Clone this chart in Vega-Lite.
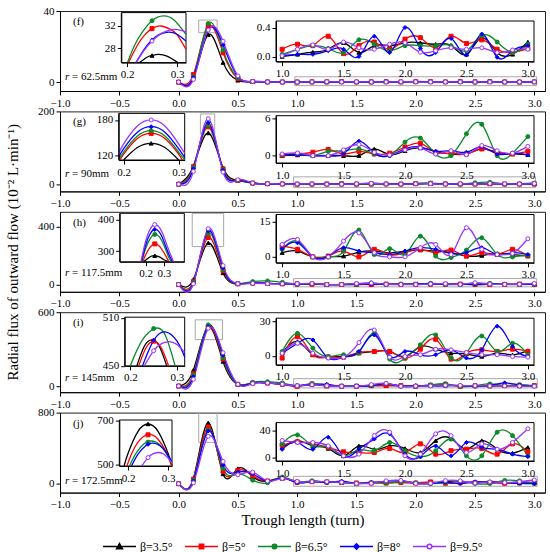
{
  "$schema": "https://vega.github.io/schema/vega-lite/v6.json",
  "padding": {"left": 4, "top": 4, "right": 7, "bottom": 0},
  "bounds": "flush",
  "data": {"values": [{}]},
  "datasets": {
    "m": [
      {"p":"f","x":0,"a":0,"b":0,"c":0,"d":0,"e":0},
      {"p":"f","x":0.125,"a":2.5,"b":4.3,"c":3,"d":2.5,"e":1.5},
      {"p":"f","x":0.25,"a":26.7,"b":31.53,"c":32.94,"d":29.48,"e":29.3},
      {"p":"f","x":0.375,"a":11,"b":16.5,"c":18,"d":21,"e":23},
      {"p":"f","x":0.5,"a":1,"b":2,"c":2.5,"d":3,"e":3.5},
      {"p":"f","x":0.625,"a":0.2,"b":0.3,"c":0.3,"d":0.3,"e":0.4},
      {"p":"f","x":0.75,"a":0.1,"b":0.1,"c":0.1,"d":0.1,"e":0.1},
      {"p":"f","x":0.875,"a":0.05,"b":0.1,"c":0.05,"d":0.05,"e":0.05},
      {"p":"f","x":1,"a":0,"b":0.1,"c":0.03,"d":0.01,"e":0.01},
      {"p":"f","x":1.125,"a":0.03,"b":0.17,"c":0.1,"d":0.03,"e":0.1},
      {"p":"f","x":1.25,"a":0.06,"b":0.15,"c":0.15,"d":0.03,"e":0.16},
      {"p":"f","x":1.375,"a":0.1,"b":0.28,"c":0.11,"d":0.08,"e":0.1},
      {"p":"f","x":1.5,"a":0.19,"b":0.04,"c":0.055,"d":0.1,"e":0.2},
      {"p":"f","x":1.625,"a":0.055,"b":0.15,"c":0.23,"d":0,"e":0.12},
      {"p":"f","x":1.75,"a":0.15,"b":0.2,"c":0.17,"d":0.28,"e":0.1},
      {"p":"f","x":1.875,"a":0.15,"b":0.1,"c":0.08,"d":0.055,"e":0.17},
      {"p":"f","x":2,"a":0.19,"b":0.24,"c":0.15,"d":0.4,"e":0.19},
      {"p":"f","x":2.125,"a":0.19,"b":0.26,"c":0.15,"d":0.11,"e":0.06},
      {"p":"f","x":2.25,"a":0.17,"b":0.12,"c":0.15,"d":0.055,"e":0.08},
      {"p":"f","x":2.375,"a":0.15,"b":0.28,"c":0.15,"d":0.25,"e":0.12},
      {"p":"f","x":2.5,"a":0.03,"b":0.18,"c":0.08,"d":0.02,"e":0.1},
      {"p":"f","x":2.625,"a":0.26,"b":0.23,"c":0.29,"d":0.31,"e":0.12},
      {"p":"f","x":2.75,"a":0.055,"b":0.1,"c":0.2,"d":-0.01,"e":0.055},
      {"p":"f","x":2.875,"a":0.03,"b":0.06,"c":0.055,"d":0.08,"e":0.09},
      {"p":"f","x":3,"a":0.2,"b":0.11,"c":0.17,"d":0.15,"e":0.1},

      {"p":"g","x":0,"a":0,"b":0,"c":0,"d":0,"e":0},
      {"p":"g","x":0.125,"a":50,"b":48,"c":46,"d":42,"e":35},
      {"p":"g","x":0.25,"a":140.7,"b":157.5,"c":162,"d":168.7,"e":180},
      {"p":"g","x":0.375,"a":45,"b":42,"c":40,"d":38,"e":33},
      {"p":"g","x":0.5,"a":10,"b":10,"c":10,"d":11,"e":12},
      {"p":"g","x":0.625,"a":3,"b":3,"c":3,"d":3,"e":3},
      {"p":"g","x":0.75,"a":1,"b":1,"c":1,"d":1,"e":1},
      {"p":"g","x":0.875,"a":0.5,"b":0.5,"c":0.5,"d":0.5,"e":0.5},
      {"p":"g","x":1,"a":0,"b":0,"c":0.15,"d":0.15,"e":0.27},
      {"p":"g","x":1.125,"a":0.1,"b":0.27,"c":0.27,"d":0.15,"e":0.44},
      {"p":"g","x":1.25,"a":0,"b":0.55,"c":0,"d":0,"e":0},
      {"p":"g","x":1.375,"a":0,"b":1,"c":0.7,"d":0,"e":0},
      {"p":"g","x":1.5,"a":0,"b":0.27,"c":0.8,"d":0.27,"e":0.93},
      {"p":"g","x":1.625,"a":0,"b":0.7,"c":1.1,"d":2.35,"e":1.8},
      {"p":"g","x":1.75,"a":1.1,"b":0.27,"c":0.27,"d":0.4,"e":0.55},
      {"p":"g","x":1.875,"a":0.15,"b":0.4,"c":0,"d":0,"e":0.1},
      {"p":"g","x":2,"a":0.8,"b":1.4,"c":2.2,"d":1.1,"e":0.93},
      {"p":"g","x":2.125,"a":1.25,"b":2,"c":2.85,"d":1.4,"e":1.25},
      {"p":"g","x":2.25,"a":0.7,"b":0.55,"c":0.27,"d":0.7,"e":0.27},
      {"p":"g","x":2.375,"a":0.27,"b":0.4,"c":0,"d":0.8,"e":0.8},
      {"p":"g","x":2.5,"a":0.27,"b":0.27,"c":3.55,"d":0.55,"e":0.15},
      {"p":"g","x":2.625,"a":1.1,"b":1.1,"c":5.1,"d":1.4,"e":1.65},
      {"p":"g","x":2.75,"a":0.55,"b":0.4,"c":0,"d":0.27,"e":0.8},
      {"p":"g","x":2.875,"a":0.27,"b":0.27,"c":0.4,"d":0.4,"e":0.4},
      {"p":"g","x":3,"a":0.15,"b":0.7,"c":3.1,"d":0.1,"e":1.5},

      {"p":"h","x":0,"a":0,"b":0,"c":0,"d":0,"e":0},
      {"p":"h","x":0.125,"a":35,"b":20,"c":15,"d":10,"e":5},
      {"p":"h","x":0.25,"a":286,"b":323,"c":353,"d":368.6,"e":384},
      {"p":"h","x":0.375,"a":80,"b":95,"c":105,"d":115,"e":130},
      {"p":"h","x":0.5,"a":5,"b":5,"c":5,"d":5,"e":5},
      {"p":"h","x":0.625,"a":10,"b":10,"c":20,"d":10,"e":8},
      {"p":"h","x":0.75,"a":8,"b":8,"c":25,"d":8,"e":6},
      {"p":"h","x":0.875,"a":5,"b":5,"c":15,"d":5,"e":5},
      {"p":"h","x":1,"a":1.8,"b":4.6,"c":3.2,"d":3.5,"e":5.3},
      {"p":"h","x":1.125,"a":2.5,"b":3.2,"c":6.7,"d":6,"e":7.4},
      {"p":"h","x":1.25,"a":0,"b":0,"c":0,"d":0,"e":0},
      {"p":"h","x":1.375,"a":0,"b":0.35,"c":0,"d":0.35,"e":0},
      {"p":"h","x":1.5,"a":0.35,"b":2.5,"c":2.5,"d":3.9,"e":6.7},
      {"p":"h","x":1.625,"a":2,"b":0,"c":11.4,"d":2.5,"e":10.2},
      {"p":"h","x":1.75,"a":2.5,"b":3.2,"c":1,"d":1.8,"e":1.8},
      {"p":"h","x":1.875,"a":1.8,"b":1,"c":3.5,"d":1,"e":0},
      {"p":"h","x":2,"a":2.5,"b":1.8,"c":1,"d":2.5,"e":0},
      {"p":"h","x":2.125,"a":2.9,"b":3.2,"c":8.8,"d":3.9,"e":3.9},
      {"p":"h","x":2.25,"a":2.5,"b":1.8,"c":0.35,"d":3.2,"e":5.3},
      {"p":"h","x":2.375,"a":1.8,"b":2.9,"c":-0.3,"d":1.5,"e":1},
      {"p":"h","x":2.5,"a":0.35,"b":0.35,"c":2.9,"d":1.8,"e":12.4},
      {"p":"h","x":2.625,"a":0.6,"b":1.8,"c":8.1,"d":3.9,"e":3.2},
      {"p":"h","x":2.75,"a":1.5,"b":1,"c":1,"d":1,"e":1},
      {"p":"h","x":2.875,"a":1,"b":3.2,"c":0,"d":1.8,"e":1.5},
      {"p":"h","x":3,"a":0.6,"b":0.35,"c":0.6,"d":1,"e":7.7},

      {"p":"i","x":0,"a":0,"b":0,"c":0,"d":0,"e":0},
      {"p":"i","x":0.125,"a":130,"b":100,"c":90,"d":75,"e":55},
      {"p":"i","x":0.25,"a":482,"b":481,"c":496.8,"d":482,"e":469},
      {"p":"i","x":0.375,"a":200,"b":220,"c":230,"d":250,"e":270},
      {"p":"i","x":0.5,"a":14,"b":14,"c":14,"d":14,"e":14},
      {"p":"i","x":0.625,"a":25,"b":25,"c":30,"d":25,"e":20},
      {"p":"i","x":0.75,"a":25,"b":25,"c":35,"d":25,"e":25},
      {"p":"i","x":0.875,"a":15,"b":15,"c":25,"d":15,"e":15},
      {"p":"i","x":1,"a":2.3,"b":-2,"c":3.8,"d":2.3,"e":2.3},
      {"p":"i","x":1.125,"a":12.5,"b":16.8,"c":19.7,"d":11,"e":11},
      {"p":"i","x":1.25,"a":0.9,"b":0.9,"c":6.7,"d":13.9,"e":2.3},
      {"p":"i","x":1.375,"a":-1,"b":-1,"c":-0.6,"d":-2,"e":-2},
      {"p":"i","x":1.5,"a":-0.5,"b":-1.2,"c":0.9,"d":-1.2,"e":-1.2},
      {"p":"i","x":1.625,"a":2.3,"b":2.9,"c":2.9,"d":3.8,"e":11.6},
      {"p":"i","x":1.75,"a":3.8,"b":3.8,"c":19.7,"d":18.3,"e":22.6},
      {"p":"i","x":1.875,"a":3.8,"b":3.8,"c":-2.9,"d":-0.6,"e":-1.2},
      {"p":"i","x":2,"a":-0.6,"b":-2,"c":-2,"d":3.8,"e":-0.6},
      {"p":"i","x":2.125,"a":8.1,"b":5.8,"c":9.6,"d":0.9,"e":0.9},
      {"p":"i","x":2.25,"a":5.8,"b":14.5,"c":18.3,"d":0.9,"e":5.8},
      {"p":"i","x":2.375,"a":2.3,"b":-2.9,"c":-2,"d":5.2,"e":5.2},
      {"p":"i","x":2.5,"a":1.7,"b":2.3,"c":2.3,"d":-2,"e":2.9},
      {"p":"i","x":2.625,"a":-0.6,"b":5.2,"c":17.4,"d":5.2,"e":0.9},
      {"p":"i","x":2.75,"a":2.3,"b":3.8,"c":3.8,"d":26,"e":0.9},
      {"p":"i","x":2.875,"a":0.9,"b":5.8,"c":11,"d":8.1,"e":-0.6},
      {"p":"i","x":3,"a":4.6,"b":3.8,"c":0.9,"d":-0.6,"e":-1.2},

      {"p":"j","x":0,"a":0,"b":0,"c":0,"d":0,"e":0},
      {"p":"j","x":0.125,"a":60,"b":50,"c":40,"d":30,"e":10},
      {"p":"j","x":0.25,"a":685,"b":636,"c":603,"d":593,"e":533},
      {"p":"j","x":0.375,"a":110,"b":140,"c":170,"d":210,"e":250},
      {"p":"j","x":0.5,"a":170,"b":150,"c":110,"d":130,"e":100},
      {"p":"j","x":0.625,"a":80,"b":90,"c":40,"d":110,"e":130},
      {"p":"j","x":0.75,"a":30,"b":30,"c":10,"d":30,"e":30},
      {"p":"j","x":0.875,"a":65,"b":60,"c":75,"d":65,"e":60},
      {"p":"j","x":1,"a":15,"b":18,"c":20,"d":12,"e":25},
      {"p":"j","x":1.125,"a":24.7,"b":23,"c":33,"d":22,"e":22},
      {"p":"j","x":1.25,"a":17,"b":20,"c":17,"d":12,"e":22},
      {"p":"j","x":1.375,"a":13.3,"b":14.8,"c":15.8,"d":29.6,"e":17},
      {"p":"j","x":1.5,"a":2.5,"b":8.4,"c":2.5,"d":2.5,"e":2.5},
      {"p":"j","x":1.625,"a":17,"b":7.4,"c":11.4,"d":12.3,"e":5},
      {"p":"j","x":1.75,"a":12,"b":7.4,"c":10,"d":27,"e":32},
      {"p":"j","x":1.875,"a":17,"b":13.3,"c":22,"d":34.6,"e":37},
      {"p":"j","x":2,"a":13.3,"b":7.4,"c":10,"d":5,"e":2.5},
      {"p":"j","x":2.125,"a":7.4,"b":20,"c":1.5,"d":1.5,"e":5},
      {"p":"j","x":2.25,"a":24.7,"b":5,"c":10,"d":17,"e":34.6},
      {"p":"j","x":2.375,"a":28,"b":10,"c":27,"d":2.5,"e":32},
      {"p":"j","x":2.5,"a":12.3,"b":12.3,"c":2.5,"d":22,"e":7.4},
      {"p":"j","x":2.625,"a":24.7,"b":13.3,"c":2.5,"d":14.8,"e":20},
      {"p":"j","x":2.75,"a":12.3,"b":5,"c":37,"d":12.3,"e":12.3},
      {"p":"j","x":2.875,"a":6.4,"b":20,"c":32,"d":5,"e":22},
      {"p":"j","x":3,"a":14.8,"b":8.4,"c":2.5,"d":1.5,"e":42}
    ],
    "k": [
      {"p":"f","s":"a","x":0.225,"y":25.43},{"p":"f","s":"a","x":0.24,"y":26.4},{"p":"f","s":"a","x":0.25,"y":26.7},{"p":"f","s":"a","x":0.262,"y":26.9},{"p":"f","s":"a","x":0.28,"y":26.6},{"p":"f","s":"a","x":0.302,"y":25.43},
      {"p":"f","s":"b","x":0.203,"y":25.43},{"p":"f","s":"b","x":0.22,"y":28.4},{"p":"f","s":"b","x":0.235,"y":30.35},{"p":"f","s":"b","x":0.25,"y":31.53},{"p":"f","s":"b","x":0.267,"y":32},{"p":"f","s":"b","x":0.285,"y":31.48},{"p":"f","s":"b","x":0.3,"y":30.45},{"p":"f","s":"b","x":0.318,"y":27.8},
      {"p":"f","s":"c","x":0.201,"y":25.43},{"p":"f","s":"c","x":0.215,"y":28.5},{"p":"f","s":"c","x":0.23,"y":30.8},{"p":"f","s":"c","x":0.25,"y":32.94},{"p":"f","s":"c","x":0.273,"y":33.8},{"p":"f","s":"c","x":0.295,"y":33},{"p":"f","s":"c","x":0.318,"y":30.5},
      {"p":"f","s":"d","x":0.218,"y":25.43},{"p":"f","s":"d","x":0.235,"y":27.9},{"p":"f","s":"d","x":0.25,"y":29.48},{"p":"f","s":"d","x":0.265,"y":30.48},{"p":"f","s":"d","x":0.283,"y":30.9},{"p":"f","s":"d","x":0.3,"y":30.52},{"p":"f","s":"d","x":0.318,"y":29.3},
      {"p":"f","s":"e","x":0.218,"y":25.43},{"p":"f","s":"e","x":0.235,"y":27.7},{"p":"f","s":"e","x":0.25,"y":29.3},{"p":"f","s":"e","x":0.27,"y":30.73},{"p":"f","s":"e","x":0.296,"y":31.4},{"p":"f","s":"e","x":0.318,"y":30.92},

      {"p":"g","s":"a","x":0.2,"y":112.8},{"p":"g","s":"a","x":0.225,"y":133.7},{"p":"g","s":"a","x":0.25,"y":140.7},{"p":"g","s":"a","x":0.275,"y":133.7},{"p":"g","s":"a","x":0.3,"y":112.8},
      {"p":"g","s":"b","x":0.1935,"y":112.8},{"p":"g","s":"b","x":0.2,"y":122.5},{"p":"g","s":"b","x":0.225,"y":148.8},{"p":"g","s":"b","x":0.25,"y":157.5},{"p":"g","s":"b","x":0.275,"y":148.8},{"p":"g","s":"b","x":0.3,"y":122.5},{"p":"g","s":"b","x":0.3065,"y":112.8},
      {"p":"g","s":"c","x":0.191,"y":113},{"p":"g","s":"c","x":0.2,"y":126},{"p":"g","s":"c","x":0.225,"y":153},{"p":"g","s":"c","x":0.25,"y":162},{"p":"g","s":"c","x":0.275,"y":153},{"p":"g","s":"c","x":0.3,"y":126},{"p":"g","s":"c","x":0.311,"y":113},
      {"p":"g","s":"d","x":0.191,"y":117},{"p":"g","s":"d","x":0.2,"y":131.7},{"p":"g","s":"d","x":0.225,"y":159.5},{"p":"g","s":"d","x":0.25,"y":168.7},{"p":"g","s":"d","x":0.275,"y":159.5},{"p":"g","s":"d","x":0.3,"y":131.7},{"p":"g","s":"d","x":0.311,"y":117},
      {"p":"g","s":"e","x":0.191,"y":124.3},{"p":"g","s":"e","x":0.2,"y":140},{"p":"g","s":"e","x":0.225,"y":170},{"p":"g","s":"e","x":0.25,"y":180},{"p":"g","s":"e","x":0.275,"y":170},{"p":"g","s":"e","x":0.3,"y":140},{"p":"g","s":"e","x":0.311,"y":124.3},

      {"p":"h","s":"a","x":0.19,"y":266.6},{"p":"h","s":"a","x":0.21,"y":276},{"p":"h","s":"a","x":0.23,"y":284},{"p":"h","s":"a","x":0.25,"y":286},{"p":"h","s":"a","x":0.275,"y":282},{"p":"h","s":"a","x":0.3,"y":273},{"p":"h","s":"a","x":0.33,"y":266.6},
      {"p":"h","s":"b","x":0.185,"y":266.6},{"p":"h","s":"b","x":0.2,"y":288},{"p":"h","s":"b","x":0.225,"y":313},{"p":"h","s":"b","x":0.25,"y":323},{"p":"h","s":"b","x":0.275,"y":316},{"p":"h","s":"b","x":0.3,"y":295},{"p":"h","s":"b","x":0.327,"y":266.6},
      {"p":"h","s":"c","x":0.18,"y":266.6},{"p":"h","s":"c","x":0.2,"y":308},{"p":"h","s":"c","x":0.225,"y":340},{"p":"h","s":"c","x":0.25,"y":353},{"p":"h","s":"c","x":0.275,"y":345},{"p":"h","s":"c","x":0.3,"y":318},{"p":"h","s":"c","x":0.325,"y":282},{"p":"h","s":"c","x":0.341,"y":266.6},
      {"p":"h","s":"d","x":0.178,"y":266.6},{"p":"h","s":"d","x":0.2,"y":318},{"p":"h","s":"d","x":0.225,"y":355},{"p":"h","s":"d","x":0.25,"y":368.6},{"p":"h","s":"d","x":0.275,"y":360},{"p":"h","s":"d","x":0.3,"y":330},{"p":"h","s":"d","x":0.325,"y":292},{"p":"h","s":"d","x":0.346,"y":266.6},
      {"p":"h","s":"e","x":0.175,"y":266.6},{"p":"h","s":"e","x":0.2,"y":330},{"p":"h","s":"e","x":0.225,"y":370},{"p":"h","s":"e","x":0.25,"y":384},{"p":"h","s":"e","x":0.275,"y":375},{"p":"h","s":"e","x":0.3,"y":345},{"p":"h","s":"e","x":0.325,"y":305},{"p":"h","s":"e","x":0.352,"y":266.6},

      {"p":"i","s":"a","x":0.214,"y":450},{"p":"i","s":"a","x":0.23,"y":474.6},{"p":"i","s":"a","x":0.246,"y":482.5},{"p":"i","s":"a","x":0.262,"y":474.6},{"p":"i","s":"a","x":0.278,"y":450},
      {"p":"i","s":"b","x":0.218,"y":450},{"p":"i","s":"b","x":0.234,"y":473},{"p":"i","s":"b","x":0.25,"y":481},{"p":"i","s":"b","x":0.266,"y":473},{"p":"i","s":"b","x":0.282,"y":450},
      {"p":"i","s":"c","x":0.2,"y":450},{"p":"i","s":"c","x":0.225,"y":481.7},{"p":"i","s":"c","x":0.2535,"y":497},{"p":"i","s":"c","x":0.275,"y":488.3},{"p":"i","s":"c","x":0.296,"y":450},
      {"p":"i","s":"d","x":0.226,"y":450},{"p":"i","s":"d","x":0.25,"y":482},{"p":"i","s":"d","x":0.275,"y":492.6},{"p":"i","s":"d","x":0.3,"y":481},{"p":"i","s":"d","x":0.3165,"y":461},
      {"p":"i","s":"e","x":0.23,"y":450},{"p":"i","s":"e","x":0.25,"y":469},{"p":"i","s":"e","x":0.265,"y":477.3},{"p":"i","s":"e","x":0.282,"y":480.5},{"p":"i","s":"e","x":0.3,"y":476.9},{"p":"i","s":"e","x":0.3165,"y":467},

      {"p":"j","s":"a","x":0.19,"y":495},{"p":"j","s":"a","x":0.2,"y":553},{"p":"j","s":"a","x":0.225,"y":652},{"p":"j","s":"a","x":0.25,"y":685},{"p":"j","s":"a","x":0.275,"y":652},{"p":"j","s":"a","x":0.3,"y":553},{"p":"j","s":"a","x":0.31,"y":495},
      {"p":"j","s":"b","x":0.197,"y":495},{"p":"j","s":"b","x":0.21,"y":555},{"p":"j","s":"b","x":0.23,"y":614},{"p":"j","s":"b","x":0.253,"y":638},{"p":"j","s":"b","x":0.275,"y":616},{"p":"j","s":"b","x":0.295,"y":560},{"p":"j","s":"b","x":0.309,"y":495},
      {"p":"j","s":"c","x":0.2035,"y":495},{"p":"j","s":"c","x":0.22,"y":553},{"p":"j","s":"c","x":0.24,"y":596},{"p":"j","s":"c","x":0.258,"y":608},{"p":"j","s":"c","x":0.28,"y":590},{"p":"j","s":"c","x":0.3,"y":540},{"p":"j","s":"c","x":0.31,"y":505},
      {"p":"j","s":"d","x":0.2085,"y":495},{"p":"j","s":"d","x":0.225,"y":549},{"p":"j","s":"d","x":0.245,"y":588},{"p":"j","s":"d","x":0.262,"y":598},{"p":"j","s":"d","x":0.285,"y":579},{"p":"j","s":"d","x":0.31,"y":515},
      {"p":"j","s":"e","x":0.234,"y":495},{"p":"j","s":"e","x":0.25,"y":533},{"p":"j","s":"e","x":0.262,"y":550},{"p":"j","s":"e","x":0.275,"y":556},{"p":"j","s":"e","x":0.29,"y":548},{"p":"j","s":"e","x":0.31,"y":511}
    ]
  },
  "vconcat": [
    {
      "width": 485, "height": 80,
      "layer": [
        {"layer": [
          {"mark": {"type": "rect", "filled": false, "stroke": "#a8a8a8", "strokeWidth": 1},
           "encoding": {
             "x": {"datum": 0.17, "type": "quantitative", "scale": {"domain": [-1, 3.09], "nice": false, "zero": false}, "axis": {"values": [-1, -0.5, 0, 0.5, 1, 1.5, 2, 2.5, 3], "format": ".1f", "title": null}},
             "x2": {"datum": 0.325},
             "y": {"datum": 27.8, "type": "quantitative", "scale": {"domain": [-5, 40], "nice": false, "zero": false}, "axis": {"values": [0, 20, 40], "title": null}},
             "y2": {"datum": 34.9}}},
          {"mark": {"type": "rect", "filled": false, "stroke": "#a8a8a8", "strokeWidth": 1},
           "encoding": {"x": {"datum": 0.98, "type": "quantitative"}, "x2": {"datum": 3.02}, "y": {"datum": -2, "type": "quantitative"}, "y2": {"datum": 3}}},
          {"data": {"name": "m"}, "transform": [{"filter": "datum.p=='f'"}, {"fold": ["a", "b", "c", "d", "e"], "as": ["s", "y"]}],
           "mark": {"type": "line", "interpolate": "natural", "strokeWidth": 1.3},
           "encoding": {"x": {"field": "x", "type": "quantitative"}, "y": {"field": "y", "type": "quantitative"},
             "color": {"field": "s", "type": "nominal", "legend": {
               "orient": "none", "legendX": 42, "legendY": 518, "direction": "horizontal", "title": null, "gridAlign": "none",
               "labelExpr": "datum.label=='a' ? 'β=3.5°' : datum.label=='b' ? 'β=5°' : datum.label=='c' ? 'β=6.5°' : datum.label=='d' ? 'β=8°' : 'β=9.5°'",
               "encode": {"symbols": {"update": {
                 "shape": {"signal": "datum.value=='a' ? 'M-1,0H-0.16M0.16,0H1M0,-0.18L0.18,0.13H-0.18Z' : datum.value=='b' ? 'M-1,0H-0.13M0.13,0H1M-0.13,-0.13H0.13V0.13H-0.13Z' : datum.value=='d' ? 'M-1,0H-0.16M0.16,0H1M0,-0.16L0.16,0L0,0.16L-0.16,0Z' : 'M-1,0H-0.14M0.14,0H1M0.14,0A0.14,0.14,0,1,1,-0.14,0A0.14,0.14,0,1,1,0.14,0Z'"},
                 "fill": {"signal": "datum.value=='a' ? '#000000' : datum.value=='b' ? '#ff0000' : datum.value=='c' ? '#0a8a28' : datum.value=='d' ? '#0000ff' : '#ffffff'"}
               }}}
             }}}},
          {"data": {"name": "m"}, "transform": [{"filter": "datum.p=='f'"}, {"fold": ["a", "b", "c", "d", "e"], "as": ["s", "y"]}],
           "mark": {"type": "point", "size": 16, "strokeWidth": 1, "opacity": 1},
           "encoding": {"x": {"field": "x", "type": "quantitative"}, "y": {"field": "y", "type": "quantitative"},
             "stroke": {"field": "s", "type": "nominal", "legend": null},
             "fill": {"field": "s", "type": "nominal", "legend": null, "scale": {"range": ["#000000", "#ff0000", "#0a8a28", "#0000ff", "#ffffff"]}},
             "shape": {"field": "s", "type": "nominal", "legend": null}}},
          {"mark": {"type": "text", "align": "left", "baseline": "middle", "fontSize": 11},
           "encoding": {"x": {"datum": -0.89, "type": "quantitative"}, "y": {"datum": 33.8, "type": "quantitative"}, "text": {"value": "(f)"}}},
          {"mark": {"type": "text", "align": "left", "baseline": "middle", "fontSize": 11, "fontStyle": "italic"},
           "encoding": {"x": {"datum": -0.958, "type": "quantitative"}, "y": {"datum": 2.9, "type": "quantitative"}, "text": {"value": "r"}}},
          {"mark": {"type": "text", "align": "left", "baseline": "middle", "fontSize": 11, "dx": 7},
           "encoding": {"x": {"datum": -0.958, "type": "quantitative"}, "y": {"datum": 2.9, "type": "quantitative"}, "text": {"value": "= 62.5mm"}}}
        ]},
        {"layer": [
          {"mark": {"type": "rect", "fill": "#ffffff", "stroke": "#000000", "strokeWidth": 1},
           "encoding": {
             "x": {"datum": 0.1886, "type": "quantitative", "scale": {"domain": [0.1886, 0.318], "range": [61.3, 126], "nice": false, "zero": false}, "axis": {"values": [0.2, 0.3], "format": ".1f", "title": null, "orient": "bottom", "offset": -28.4, "zindex": 1}},
             "x2": {"datum": 0.318},
             "y": {"datum": 25.43, "type": "quantitative", "scale": {"domain": [25.43, 34.4], "range": [51.6, 1.6], "nice": false, "zero": false}, "axis": {"values": [28, 32], "title": null, "orient": "left", "offset": -61.3, "zindex": 1}},
             "y2": {"datum": 34.4}}},
          {"data": {"name": "k"}, "transform": [{"filter": "datum.p=='f'"}],
           "mark": {"type": "line", "interpolate": "natural", "strokeWidth": 1.3},
           "encoding": {"x": {"field": "x", "type": "quantitative"}, "y": {"field": "y", "type": "quantitative"}, "color": {"field": "s", "type": "nominal"}}},
          {"data": {"name": "m"}, "transform": [{"filter": "datum.p=='f' && datum.x==0.25"}, {"fold": ["a", "b", "c", "d", "e"], "as": ["s", "y"]}],
           "mark": {"type": "point", "size": 16, "strokeWidth": 1, "opacity": 1},
           "encoding": {"x": {"field": "x", "type": "quantitative"}, "y": {"field": "y", "type": "quantitative"},
             "stroke": {"field": "s", "type": "nominal", "legend": null},
             "fill": {"field": "s", "type": "nominal", "legend": null},
             "shape": {"field": "s", "type": "nominal", "legend": null}}}
        ]},
        {"layer": [
          {"mark": {"type": "rect", "fill": "#ffffff", "stroke": "#000000", "strokeWidth": 1},
           "encoding": {
             "x": {"datum": 0.95, "type": "quantitative", "scale": {"domain": [0.95, 3.05], "range": [216, 474], "nice": false, "zero": false}, "axis": {"values": [1, 1.5, 2, 2.5, 3], "format": ".1f", "title": null, "orient": "bottom", "offset": -29.4, "zindex": 1}},
             "x2": {"datum": 3.05},
             "y": {"datum": -0.07, "type": "quantitative", "scale": {"domain": [-0.07, 0.49], "range": [50.6, 10], "nice": false, "zero": false}, "axis": {"values": [0, 0.2, 0.4], "format": ".1f", "title": null, "orient": "left", "offset": -216, "zindex": 1}},
             "y2": {"datum": 0.49}}},
          {"data": {"name": "m"}, "transform": [{"filter": "datum.p=='f' && datum.x>=1"}, {"fold": ["a", "b", "c", "d", "e"], "as": ["s", "y"]}],
           "mark": {"type": "line", "interpolate": "natural", "strokeWidth": 1.3},
           "encoding": {"x": {"field": "x", "type": "quantitative"}, "y": {"field": "y", "type": "quantitative"}, "color": {"field": "s", "type": "nominal"}}},
          {"data": {"name": "m"}, "transform": [{"filter": "datum.p=='f' && datum.x>=1"}, {"fold": ["a", "b", "c", "d", "e"], "as": ["s", "y"]}],
           "mark": {"type": "point", "size": 16, "strokeWidth": 1, "opacity": 1},
           "encoding": {"x": {"field": "x", "type": "quantitative"}, "y": {"field": "y", "type": "quantitative"},
             "stroke": {"field": "s", "type": "nominal", "legend": null},
             "fill": {"field": "s", "type": "nominal", "legend": null},
             "shape": {"field": "s", "type": "nominal", "legend": null}}}
        ]}
      ],
      "resolve": {"scale": {"x": "independent", "y": "independent"}}
    },
    {
      "width": 485, "height": 80,
      "layer": [
        {"layer": [
          {"mark": {"type": "rect", "filled": false, "stroke": "#a8a8a8", "strokeWidth": 1},
           "encoding": {
             "x": {"datum": 0.184, "type": "quantitative", "scale": {"domain": [-1, 3.09], "nice": false, "zero": false}, "axis": {"values": [-1, -0.5, 0, 0.5, 1, 1.5, 2, 2.5, 3], "format": ".1f", "title": null}},
             "x2": {"datum": 0.305},
             "y": {"datum": 138, "type": "quantitative", "scale": {"domain": [-20, 200], "nice": false, "zero": false}, "axis": {"values": [0, 100, 200], "title": null}},
             "y2": {"datum": 193}}},
          {"mark": {"type": "rect", "filled": false, "stroke": "#a8a8a8", "strokeWidth": 1},
           "encoding": {"x": {"datum": 0.97, "type": "quantitative"}, "x2": {"datum": 3.01}, "y": {"datum": -9, "type": "quantitative"}, "y2": {"datum": 20}}},
          {"data": {"name": "m"}, "transform": [{"filter": "datum.p=='g'"}, {"fold": ["a", "b", "c", "d", "e"], "as": ["s", "y"]}],
           "mark": {"type": "line", "interpolate": "natural", "strokeWidth": 1.3},
           "encoding": {"x": {"field": "x", "type": "quantitative"}, "y": {"field": "y", "type": "quantitative"}, "color": {"field": "s", "type": "nominal"}}},
          {"data": {"name": "m"}, "transform": [{"filter": "datum.p=='g'"}, {"fold": ["a", "b", "c", "d", "e"], "as": ["s", "y"]}],
           "mark": {"type": "point", "size": 16, "strokeWidth": 1, "opacity": 1},
           "encoding": {"x": {"field": "x", "type": "quantitative"}, "y": {"field": "y", "type": "quantitative"},
             "stroke": {"field": "s", "type": "nominal", "legend": null},
             "fill": {"field": "s", "type": "nominal", "legend": null},
             "shape": {"field": "s", "type": "nominal", "legend": null}}},
          {"mark": {"type": "text", "align": "left", "baseline": "middle", "fontSize": 11},
           "encoding": {"x": {"datum": -0.89, "type": "quantitative"}, "y": {"datum": 170, "type": "quantitative"}, "text": {"value": "(g)"}}},
          {"mark": {"type": "text", "align": "left", "baseline": "middle", "fontSize": 11, "fontStyle": "italic"},
           "encoding": {"x": {"datum": -0.958, "type": "quantitative"}, "y": {"datum": 28, "type": "quantitative"}, "text": {"value": "r"}}},
          {"mark": {"type": "text", "align": "left", "baseline": "middle", "fontSize": 11, "dx": 7},
           "encoding": {"x": {"datum": -0.958, "type": "quantitative"}, "y": {"datum": 28, "type": "quantitative"}, "text": {"value": "= 90mm"}}}
        ]},
        {"layer": [
          {"mark": {"type": "rect", "fill": "#ffffff", "stroke": "#000000", "strokeWidth": 1},
           "encoding": {
             "x": {"datum": 0.191, "type": "quantitative", "scale": {"domain": [0.191, 0.311], "range": [58.7, 124.7], "nice": false, "zero": false}, "axis": {"values": [0.2, 0.3], "format": ".1f", "title": null, "orient": "bottom", "offset": -31.4, "zindex": 1}},
             "x2": {"datum": 0.311},
             "y": {"datum": 112.8, "type": "quantitative", "scale": {"domain": [112.8, 191], "range": [48.6, 2], "nice": false, "zero": false}, "axis": {"values": [120, 150, 180], "title": null, "orient": "left", "offset": -58.7, "zindex": 1}},
             "y2": {"datum": 191}}},
          {"data": {"name": "k"}, "transform": [{"filter": "datum.p=='g'"}],
           "mark": {"type": "line", "interpolate": "natural", "strokeWidth": 1.3},
           "encoding": {"x": {"field": "x", "type": "quantitative"}, "y": {"field": "y", "type": "quantitative"}, "color": {"field": "s", "type": "nominal"}}},
          {"data": {"name": "m"}, "transform": [{"filter": "datum.p=='g' && datum.x==0.25"}, {"fold": ["a", "b", "c", "d", "e"], "as": ["s", "y"]}],
           "mark": {"type": "point", "size": 16, "strokeWidth": 1, "opacity": 1},
           "encoding": {"x": {"field": "x", "type": "quantitative"}, "y": {"field": "y", "type": "quantitative"},
             "stroke": {"field": "s", "type": "nominal", "legend": null},
             "fill": {"field": "s", "type": "nominal", "legend": null},
             "shape": {"field": "s", "type": "nominal", "legend": null}}}
        ]},
        {"layer": [
          {"mark": {"type": "rect", "fill": "#ffffff", "stroke": "#000000", "strokeWidth": 1},
           "encoding": {
             "x": {"datum": 0.95, "type": "quantitative", "scale": {"domain": [0.95, 3.05], "range": [216, 474], "nice": false, "zero": false}, "axis": {"values": [1, 1.5, 2, 2.5, 3], "format": ".1f", "title": null, "orient": "bottom", "offset": -28.4, "zindex": 1}},
             "x2": {"datum": 3.05},
             "y": {"datum": -1.2, "type": "quantitative", "scale": {"domain": [-1.2, 6.5], "range": [51.6, 4.3], "nice": false, "zero": false}, "axis": {"values": [0, 2, 4, 6], "title": null, "orient": "left", "offset": -216, "zindex": 1}},
             "y2": {"datum": 6.5}}},
          {"data": {"name": "m"}, "transform": [{"filter": "datum.p=='g' && datum.x>=1"}, {"fold": ["a", "b", "c", "d", "e"], "as": ["s", "y"]}],
           "mark": {"type": "line", "interpolate": "natural", "strokeWidth": 1.3},
           "encoding": {"x": {"field": "x", "type": "quantitative"}, "y": {"field": "y", "type": "quantitative"}, "color": {"field": "s", "type": "nominal"}}},
          {"data": {"name": "m"}, "transform": [{"filter": "datum.p=='g' && datum.x>=1"}, {"fold": ["a", "b", "c", "d", "e"], "as": ["s", "y"]}],
           "mark": {"type": "point", "size": 16, "strokeWidth": 1, "opacity": 1},
           "encoding": {"x": {"field": "x", "type": "quantitative"}, "y": {"field": "y", "type": "quantitative"},
             "stroke": {"field": "s", "type": "nominal", "legend": null},
             "fill": {"field": "s", "type": "nominal", "legend": null},
             "shape": {"field": "s", "type": "nominal", "legend": null}}}
        ]}
      ],
      "resolve": {"scale": {"x": "independent", "y": "independent"}}
    },
    {
      "width": 485, "height": 80,
      "layer": [
        {"layer": [
          {"mark": {"type": "rect", "filled": false, "stroke": "#a8a8a8", "strokeWidth": 1},
           "encoding": {
             "x": {"datum": 0.115, "type": "quantitative", "scale": {"domain": [-1, 3.09], "nice": false, "zero": false}, "axis": {"values": [-1, -0.5, 0, 0.5, 1, 1.5, 2, 2.5, 3], "format": ".1f", "title": null}},
             "x2": {"datum": 0.38},
             "y": {"datum": 261, "type": "quantitative", "scale": {"domain": [-50, 500], "nice": false, "zero": false}, "axis": {"values": [0, 200, 400], "title": "Radial flux of outward flow (10⁻² L·min⁻¹)", "titleFontSize": 15, "titleX": -40, "titleY": 40}},
             "y2": {"datum": 489}}},
          {"mark": {"type": "rect", "filled": false, "stroke": "#a8a8a8", "strokeWidth": 1},
           "encoding": {"x": {"datum": 0.97, "type": "quantitative"}, "x2": {"datum": 3.02}, "y": {"datum": -16, "type": "quantitative"}, "y2": {"datum": 41}}},
          {"data": {"name": "m"}, "transform": [{"filter": "datum.p=='h'"}, {"fold": ["a", "b", "c", "d", "e"], "as": ["s", "y"]}],
           "mark": {"type": "line", "interpolate": "natural", "strokeWidth": 1.3},
           "encoding": {"x": {"field": "x", "type": "quantitative"}, "y": {"field": "y", "type": "quantitative"}, "color": {"field": "s", "type": "nominal"}}},
          {"data": {"name": "m"}, "transform": [{"filter": "datum.p=='h'"}, {"fold": ["a", "b", "c", "d", "e"], "as": ["s", "y"]}],
           "mark": {"type": "point", "size": 16, "strokeWidth": 1, "opacity": 1},
           "encoding": {"x": {"field": "x", "type": "quantitative"}, "y": {"field": "y", "type": "quantitative"},
             "stroke": {"field": "s", "type": "nominal", "legend": null},
             "fill": {"field": "s", "type": "nominal", "legend": null},
             "shape": {"field": "s", "type": "nominal", "legend": null}}},
          {"mark": {"type": "text", "align": "left", "baseline": "middle", "fontSize": 11},
           "encoding": {"x": {"datum": -0.89, "type": "quantitative"}, "y": {"datum": 424, "type": "quantitative"}, "text": {"value": "(h)"}}},
          {"mark": {"type": "text", "align": "left", "baseline": "middle", "fontSize": 11, "fontStyle": "italic"},
           "encoding": {"x": {"datum": -0.958, "type": "quantitative"}, "y": {"datum": 81, "type": "quantitative"}, "text": {"value": "r"}}},
          {"mark": {"type": "text", "align": "left", "baseline": "middle", "fontSize": 11, "dx": 7},
           "encoding": {"x": {"datum": -0.958, "type": "quantitative"}, "y": {"datum": 81, "type": "quantitative"}, "text": {"value": "= 117.5mm"}}}
        ]},
        {"layer": [
          {"mark": {"type": "rect", "fill": "#ffffff", "stroke": "#000000", "strokeWidth": 1},
           "encoding": {
             "x": {"datum": 0.06, "type": "quantitative", "scale": {"domain": [0.06, 0.41], "range": [59.7, 124.3], "nice": false, "zero": false}, "axis": {"values": [0.2, 0.3], "format": ".1f", "title": null, "orient": "bottom", "offset": -30, "zindex": 1}},
             "x2": {"datum": 0.41},
             "y": {"datum": 266.6, "type": "quantitative", "scale": {"domain": [266.6, 419.6], "range": [50, 1.5], "nice": false, "zero": false}, "axis": {"values": [300, 400], "title": null, "orient": "left", "offset": -59.7, "zindex": 1}},
             "y2": {"datum": 419.6}}},
          {"data": {"name": "k"}, "transform": [{"filter": "datum.p=='h'"}],
           "mark": {"type": "line", "interpolate": "natural", "strokeWidth": 1.3},
           "encoding": {"x": {"field": "x", "type": "quantitative"}, "y": {"field": "y", "type": "quantitative"}, "color": {"field": "s", "type": "nominal"}}},
          {"data": {"name": "m"}, "transform": [{"filter": "datum.p=='h' && datum.x==0.25"}, {"fold": ["a", "b", "c", "d", "e"], "as": ["s", "y"]}],
           "mark": {"type": "point", "size": 16, "strokeWidth": 1, "opacity": 1},
           "encoding": {"x": {"field": "x", "type": "quantitative"}, "y": {"field": "y", "type": "quantitative"},
             "stroke": {"field": "s", "type": "nominal", "legend": null},
             "fill": {"field": "s", "type": "nominal", "legend": null},
             "shape": {"field": "s", "type": "nominal", "legend": null}}}
        ]},
        {"layer": [
          {"mark": {"type": "rect", "fill": "#ffffff", "stroke": "#000000", "strokeWidth": 1},
           "encoding": {
             "x": {"datum": 0.95, "type": "quantitative", "scale": {"domain": [0.95, 3.05], "range": [216, 474], "nice": false, "zero": false}, "axis": {"values": [1, 1.5, 2, 2.5, 3], "format": ".1f", "title": null, "orient": "bottom", "offset": -29, "zindex": 1}},
             "x2": {"datum": 3.05},
             "y": {"datum": -2.5, "type": "quantitative", "scale": {"domain": [-2.5, 18], "range": [51, 2.7], "nice": false, "zero": false}, "axis": {"values": [0, 5, 10, 15], "title": null, "orient": "left", "offset": -216, "zindex": 1}},
             "y2": {"datum": 18}}},
          {"data": {"name": "m"}, "transform": [{"filter": "datum.p=='h' && datum.x>=1"}, {"fold": ["a", "b", "c", "d", "e"], "as": ["s", "y"]}],
           "mark": {"type": "line", "interpolate": "natural", "strokeWidth": 1.3},
           "encoding": {"x": {"field": "x", "type": "quantitative"}, "y": {"field": "y", "type": "quantitative"}, "color": {"field": "s", "type": "nominal"}}},
          {"data": {"name": "m"}, "transform": [{"filter": "datum.p=='h' && datum.x>=1"}, {"fold": ["a", "b", "c", "d", "e"], "as": ["s", "y"]}],
           "mark": {"type": "point", "size": 16, "strokeWidth": 1, "opacity": 1},
           "encoding": {"x": {"field": "x", "type": "quantitative"}, "y": {"field": "y", "type": "quantitative"},
             "stroke": {"field": "s", "type": "nominal", "legend": null},
             "fill": {"field": "s", "type": "nominal", "legend": null},
             "shape": {"field": "s", "type": "nominal", "legend": null}}}
        ]}
      ],
      "resolve": {"scale": {"x": "independent", "y": "independent"}}
    },
    {
      "width": 485, "height": 80,
      "layer": [
        {"layer": [
          {"mark": {"type": "rect", "filled": false, "stroke": "#a8a8a8", "strokeWidth": 1},
           "encoding": {
             "x": {"datum": 0.14, "type": "quantitative", "scale": {"domain": [-1, 3.09], "nice": false, "zero": false}, "axis": {"values": [-1, -0.5, 0, 0.5, 1, 1.5, 2, 2.5, 3], "format": ".1f", "title": null}},
             "x2": {"datum": 0.37},
             "y": {"datum": 377, "type": "quantitative", "scale": {"domain": [-50, 600], "nice": false, "zero": false}, "axis": {"values": [0, 200, 400, 600], "title": null}},
             "y2": {"datum": 538}}},
          {"mark": {"type": "rect", "filled": false, "stroke": "#a8a8a8", "strokeWidth": 1},
           "encoding": {"x": {"datum": 0.97, "type": "quantitative"}, "x2": {"datum": 3.025}, "y": {"datum": -15, "type": "quantitative"}, "y2": {"datum": 60}}},
          {"data": {"name": "m"}, "transform": [{"filter": "datum.p=='i'"}, {"fold": ["a", "b", "c", "d", "e"], "as": ["s", "y"]}],
           "mark": {"type": "line", "interpolate": "natural", "strokeWidth": 1.3},
           "encoding": {"x": {"field": "x", "type": "quantitative"}, "y": {"field": "y", "type": "quantitative"}, "color": {"field": "s", "type": "nominal"}}},
          {"data": {"name": "m"}, "transform": [{"filter": "datum.p=='i'"}, {"fold": ["a", "b", "c", "d", "e"], "as": ["s", "y"]}],
           "mark": {"type": "point", "size": 16, "strokeWidth": 1, "opacity": 1},
           "encoding": {"x": {"field": "x", "type": "quantitative"}, "y": {"field": "y", "type": "quantitative"},
             "stroke": {"field": "s", "type": "nominal", "legend": null},
             "fill": {"field": "s", "type": "nominal", "legend": null},
             "shape": {"field": "s", "type": "nominal", "legend": null}}},
          {"mark": {"type": "text", "align": "left", "baseline": "middle", "fontSize": 11},
           "encoding": {"x": {"datum": -0.89, "type": "quantitative"}, "y": {"datum": 511, "type": "quantitative"}, "text": {"value": "(i)"}}},
          {"mark": {"type": "text", "align": "left", "baseline": "middle", "fontSize": 11, "fontStyle": "italic"},
           "encoding": {"x": {"datum": -0.958, "type": "quantitative"}, "y": {"datum": 64, "type": "quantitative"}, "text": {"value": "r"}}},
          {"mark": {"type": "text", "align": "left", "baseline": "middle", "fontSize": 11, "dx": 7},
           "encoding": {"x": {"datum": -0.958, "type": "quantitative"}, "y": {"datum": 64, "type": "quantitative"}, "text": {"value": "= 145mm"}}}
        ]},
        {"layer": [
          {"mark": {"type": "rect", "fill": "#ffffff", "stroke": "#000000", "strokeWidth": 1},
           "encoding": {
             "x": {"datum": 0.188, "type": "quantitative", "scale": {"domain": [0.188, 0.3165], "range": [64.7, 124.7], "nice": false, "zero": false}, "axis": {"values": [0.2, 0.3], "format": ".1f", "title": null, "orient": "bottom", "offset": -26.3, "zindex": 1}},
             "x2": {"datum": 0.3165},
             "y": {"datum": 450, "type": "quantitative", "scale": {"domain": [450, 511], "range": [53.7, 5], "nice": false, "zero": false}, "axis": {"values": [450, 480, 510], "title": null, "orient": "left", "offset": -64.7, "zindex": 1}},
             "y2": {"datum": 511}}},
          {"data": {"name": "k"}, "transform": [{"filter": "datum.p=='i'"}],
           "mark": {"type": "line", "interpolate": "natural", "strokeWidth": 1.3},
           "encoding": {"x": {"field": "x", "type": "quantitative"}, "y": {"field": "y", "type": "quantitative"}, "color": {"field": "s", "type": "nominal"}}},
          {"data": {"name": "m"}, "transform": [{"filter": "datum.p=='i' && datum.x==0.25"}, {"fold": ["a", "b", "c", "d", "e"], "as": ["s", "y"]}],
           "mark": {"type": "point", "size": 16, "strokeWidth": 1, "opacity": 1},
           "encoding": {"x": {"field": "x", "type": "quantitative"}, "y": {"field": "y", "type": "quantitative"},
             "stroke": {"field": "s", "type": "nominal", "legend": null},
             "fill": {"field": "s", "type": "nominal", "legend": null},
             "shape": {"field": "s", "type": "nominal", "legend": null}}}
        ]},
        {"layer": [
          {"mark": {"type": "rect", "fill": "#ffffff", "stroke": "#000000", "strokeWidth": 1},
           "encoding": {
             "x": {"datum": 0.95, "type": "quantitative", "scale": {"domain": [0.95, 3.05], "range": [216, 474], "nice": false, "zero": false}, "axis": {"values": [1, 1.5, 2, 2.5, 3], "format": ".1f", "title": null, "orient": "bottom", "offset": -27.3, "zindex": 1}},
             "x2": {"datum": 3.05},
             "y": {"datum": -8, "type": "quantitative", "scale": {"domain": [-8, 33], "range": [52.7, 6], "nice": false, "zero": false}, "axis": {"values": [0, 10, 20, 30], "title": null, "orient": "left", "offset": -216, "zindex": 1}},
             "y2": {"datum": 33}}},
          {"data": {"name": "m"}, "transform": [{"filter": "datum.p=='i' && datum.x>=1"}, {"fold": ["a", "b", "c", "d", "e"], "as": ["s", "y"]}],
           "mark": {"type": "line", "interpolate": "natural", "strokeWidth": 1.3},
           "encoding": {"x": {"field": "x", "type": "quantitative"}, "y": {"field": "y", "type": "quantitative"}, "color": {"field": "s", "type": "nominal"}}},
          {"data": {"name": "m"}, "transform": [{"filter": "datum.p=='i' && datum.x>=1"}, {"fold": ["a", "b", "c", "d", "e"], "as": ["s", "y"]}],
           "mark": {"type": "point", "size": 16, "strokeWidth": 1, "opacity": 1},
           "encoding": {"x": {"field": "x", "type": "quantitative"}, "y": {"field": "y", "type": "quantitative"},
             "stroke": {"field": "s", "type": "nominal", "legend": null},
             "fill": {"field": "s", "type": "nominal", "legend": null},
             "shape": {"field": "s", "type": "nominal", "legend": null}}}
        ]}
      ],
      "resolve": {"scale": {"x": "independent", "y": "independent"}}
    },
    {
      "width": 485, "height": 80,
      "layer": [
        {"layer": [
          {"mark": {"type": "rect", "filled": false, "stroke": "#a8a8a8", "strokeWidth": 1},
           "encoding": {
             "x": {"datum": 0.17, "type": "quantitative", "scale": {"domain": [-1, 3.09], "nice": false, "zero": false}, "axis": {"values": [-1, -0.5, 0, 0.5, 1, 1.5, 2, 2.5, 3], "format": ".1f", "title": "Trough length (turn)", "titleFontSize": 15, "titlePadding": 3}},
             "x2": {"datum": 0.325},
             "y": {"datum": 465, "type": "quantitative", "scale": {"domain": [-100, 800], "nice": false, "zero": false}, "axis": {"values": [0, 400, 800], "title": null}},
             "y2": {"datum": 800}}},
          {"mark": {"type": "rect", "filled": false, "stroke": "#a8a8a8", "strokeWidth": 1},
           "encoding": {"x": {"datum": 0.97, "type": "quantitative"}, "x2": {"datum": 3.025}, "y": {"datum": -29, "type": "quantitative"}, "y2": {"datum": 83}}},
          {"data": {"name": "m"}, "transform": [{"filter": "datum.p=='j'"}, {"fold": ["a", "b", "c", "d", "e"], "as": ["s", "y"]}],
           "mark": {"type": "line", "interpolate": "natural", "strokeWidth": 1.3},
           "encoding": {"x": {"field": "x", "type": "quantitative"}, "y": {"field": "y", "type": "quantitative"}, "color": {"field": "s", "type": "nominal"}}},
          {"data": {"name": "m"}, "transform": [{"filter": "datum.p=='j'"}, {"fold": ["a", "b", "c", "d", "e"], "as": ["s", "y"]}],
           "mark": {"type": "point", "size": 16, "strokeWidth": 1, "opacity": 1},
           "encoding": {"x": {"field": "x", "type": "quantitative"}, "y": {"field": "y", "type": "quantitative"},
             "stroke": {"field": "s", "type": "nominal", "legend": null},
             "fill": {"field": "s", "type": "nominal", "legend": null},
             "shape": {"field": "s", "type": "nominal", "legend": null}}},
          {"mark": {"type": "text", "align": "left", "baseline": "middle", "fontSize": 11},
           "encoding": {"x": {"datum": -0.89, "type": "quantitative"}, "y": {"datum": 676, "type": "quantitative"}, "text": {"value": "(j)"}}},
          {"mark": {"type": "text", "align": "left", "baseline": "middle", "fontSize": 11, "fontStyle": "italic"},
           "encoding": {"x": {"datum": -0.958, "type": "quantitative"}, "y": {"datum": 35, "type": "quantitative"}, "text": {"value": "r"}}},
          {"mark": {"type": "text", "align": "left", "baseline": "middle", "fontSize": 11, "dx": 7},
           "encoding": {"x": {"datum": -0.958, "type": "quantitative"}, "y": {"datum": 35, "type": "quantitative"}, "text": {"value": "= 172.5mm"}}}
        ]},
        {"layer": [
          {"mark": {"type": "rect", "fill": "#ffffff", "stroke": "#000000", "strokeWidth": 1},
           "encoding": {
             "x": {"datum": 0.178, "type": "quantitative", "scale": {"domain": [0.178, 0.31], "range": [59.3, 112], "nice": false, "zero": false}, "axis": {"values": [0.2, 0.3], "format": ".1f", "title": null, "orient": "bottom", "offset": -26.6, "zindex": 1}},
             "x2": {"datum": 0.31},
             "y": {"datum": 495, "type": "quantitative", "scale": {"domain": [495, 703], "range": [53.4, 7.4], "nice": false, "zero": false}, "axis": {"values": [500, 600, 700], "title": null, "orient": "left", "offset": -59.3, "zindex": 1}},
             "y2": {"datum": 703}}},
          {"data": {"name": "k"}, "transform": [{"filter": "datum.p=='j'"}],
           "mark": {"type": "line", "interpolate": "natural", "strokeWidth": 1.3},
           "encoding": {"x": {"field": "x", "type": "quantitative"}, "y": {"field": "y", "type": "quantitative"}, "color": {"field": "s", "type": "nominal"}}},
          {"data": {"name": "m"}, "transform": [{"filter": "datum.p=='j' && datum.x==0.25"}, {"fold": ["a", "b", "c", "d", "e"], "as": ["s", "y"]}],
           "mark": {"type": "point", "size": 16, "strokeWidth": 1, "opacity": 1},
           "encoding": {"x": {"field": "x", "type": "quantitative"}, "y": {"field": "y", "type": "quantitative"},
             "stroke": {"field": "s", "type": "nominal", "legend": null},
             "fill": {"field": "s", "type": "nominal", "legend": null},
             "shape": {"field": "s", "type": "nominal", "legend": null}}}
        ]},
        {"layer": [
          {"mark": {"type": "rect", "fill": "#ffffff", "stroke": "#000000", "strokeWidth": 1},
           "encoding": {
             "x": {"datum": 0.95, "type": "quantitative", "scale": {"domain": [0.95, 3.05], "range": [216, 474], "nice": false, "zero": false}, "axis": {"values": [1, 1.5, 2, 2.5, 3], "format": ".1f", "title": null, "orient": "bottom", "offset": -31.6, "zindex": 1}},
             "x2": {"datum": 3.05},
             "y": {"datum": -5, "type": "quantitative", "scale": {"domain": [-5, 51], "range": [48.4, 10], "nice": false, "zero": false}, "axis": {"values": [0, 20, 40], "title": null, "orient": "left", "offset": -216, "zindex": 1}},
             "y2": {"datum": 51}}},
          {"data": {"name": "m"}, "transform": [{"filter": "datum.p=='j' && datum.x>=1"}, {"fold": ["a", "b", "c", "d", "e"], "as": ["s", "y"]}],
           "mark": {"type": "line", "interpolate": "natural", "strokeWidth": 1.3},
           "encoding": {"x": {"field": "x", "type": "quantitative"}, "y": {"field": "y", "type": "quantitative"}, "color": {"field": "s", "type": "nominal"}}},
          {"data": {"name": "m"}, "transform": [{"filter": "datum.p=='j' && datum.x>=1"}, {"fold": ["a", "b", "c", "d", "e"], "as": ["s", "y"]}],
           "mark": {"type": "point", "size": 16, "strokeWidth": 1, "opacity": 1},
           "encoding": {"x": {"field": "x", "type": "quantitative"}, "y": {"field": "y", "type": "quantitative"},
             "stroke": {"field": "s", "type": "nominal", "legend": null},
             "fill": {"field": "s", "type": "nominal", "legend": null},
             "shape": {"field": "s", "type": "nominal", "legend": null}}}
        ]}
      ],
      "resolve": {"scale": {"x": "independent", "y": "independent"}}
    }
  ],
  "resolve": {"scale": {"x": "independent", "y": "independent"}},
  "config": {
    "font": "Liberation Serif",
    "view": {"stroke": "#222222", "strokeWidth": 1},
    "concat": {"spacing": 20.4},
    "range": {
      "category": ["#000000", "#ff0000", "#0a8a28", "#0000ff", "#9933ff"],
      "symbol": ["triangle-up", "square", "circle", "diamond", "circle"]
    },
    "axis": {
      "grid": false, "labelFont": "Liberation Serif", "labelFontSize": 11, "labelColor": "#000000",
      "tickColor": "#000000", "domainColor": "#000000", "tickSize": 4, "labelPadding": 2,
      "labelFlush": false, "labelOverlap": false,
      "titleFont": "Liberation Serif", "titleFontWeight": "normal", "titleColor": "#000000"
    },
    "legend": {
      "labelFont": "Liberation Serif", "labelFontSize": 12, "labelColor": "#000000",
      "symbolSize": 1089, "symbolStrokeWidth": 1.5, "labelOffset": 3, "columnPadding": 9
    },
    "text": {"font": "Liberation Serif", "color": "#000000"}
  }
}
